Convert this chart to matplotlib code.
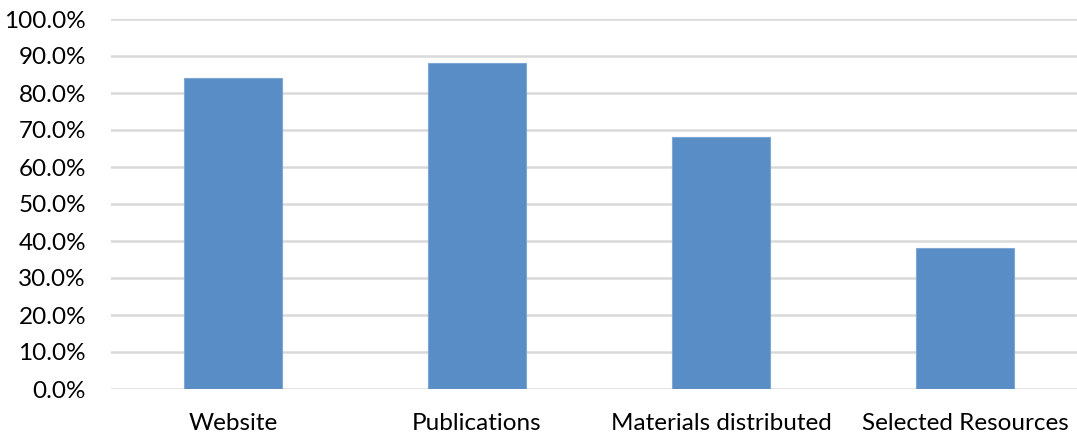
import matplotlib
matplotlib.use("Agg")
import matplotlib.pyplot as plt
from matplotlib.ticker import FuncFormatter, MultipleLocator

categories = ["Website", "Publications", "Materials distributed", "Selected Resources"]
values = [84.0, 88.0, 68.0, 38.0]  # percent

plt.rcParams["font.family"] = ["Lato", "DejaVu Sans"]

fig = plt.figure(figsize=(10.77, 4.37), dpi=100)
# plot area runs slightly past the right edge of the canvas
ax = fig.add_axes([111 / 1077, 48 / 437, (1087 - 111) / 1077, (389 - 19) / 437])

x = range(len(categories))
ax.bar(x, values, width=0.40, color="#588DC5", edgecolor="#7FA7D6",
       linewidth=0.8, zorder=3)

ax.set_xlim(-0.5, len(categories) - 0.5)
ax.set_ylim(0, 100)
ax.yaxis.set_major_locator(MultipleLocator(10))
ax.yaxis.set_major_formatter(FuncFormatter(lambda v, _: f"{v:.1f}%"))
ax.grid(axis="y", color="#D9D9D9", linewidth=1.8, zorder=0)
ax.set_xticks(list(x))
ax.set_xticklabels(categories)

for s in ax.spines.values():
    s.set_visible(False)
ax.tick_params(axis="both", length=0, labelsize=17.5, colors="#000000")
ax.tick_params(axis="y", pad=18)
ax.tick_params(axis="x", pad=17)

fig.savefig("out.png", dpi=100)
